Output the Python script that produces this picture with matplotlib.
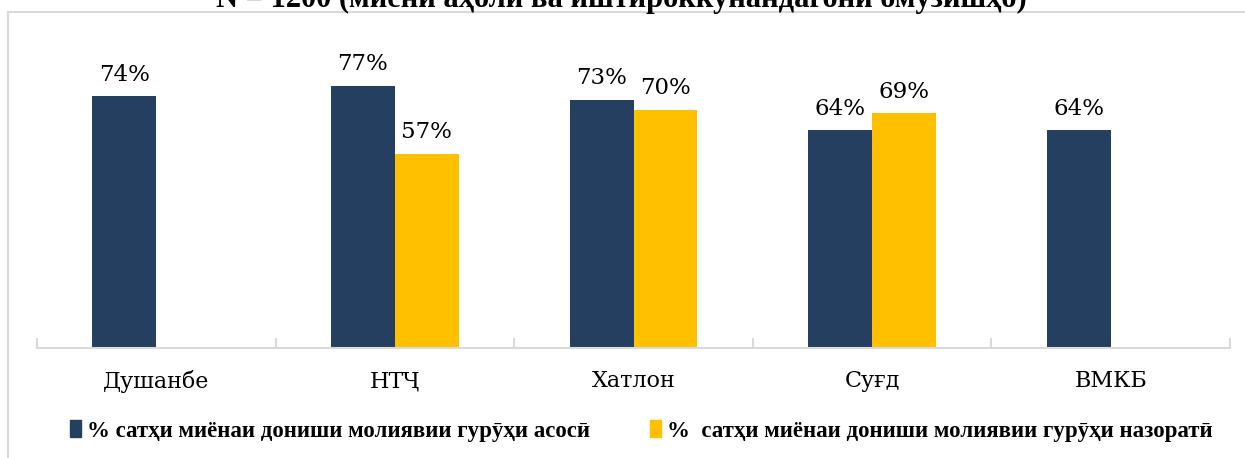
import matplotlib.pyplot as plt
import matplotlib.patches as mpatches
from matplotlib.lines import Line2D
import numpy as np

regions = ['Душанбе', 'НТҶ', 'Хатлон', 'Суғд', 'ВМКБ']
asosi = [74, 77, 73, 64, 64]
nazorati = [None, 57, 70, 69, None]
label_asosi = '% сатҳи миёнаи дониши молиявии гурӯҳи асосӣ'
label_nazorati = '%  сатҳи миёнаи дониши молиявии гурӯҳи назоратӣ'
title = 'N = 1200 (миёни аҳолӣ ва иштироккунандагони омӯзишҳо)'

navy = '#243F60'
gold = '#FFC000'
grid_c = '#D9D9D9'

plt.rcParams['font.family'] = ['DejaVu Serif']

W, H = 1245, 458
fig = plt.figure(figsize=(W / 100, H / 100), dpi=100)
ax = fig.add_axes([37 / W, 1 - 348 / H, (1230 - 37) / W, (348 - 8) / H])

x = np.arange(len(regions))
w = 0.268
for i in range(len(regions)):
    ax.bar(x[i] - w / 2, asosi[i], w, color=navy)
    ax.text(x[i] - w / 2, asosi[i] + 3.2, f'{asosi[i]}%', ha='center', va='bottom',
            fontsize=16.5)
    if nazorati[i] is not None:
        ax.bar(x[i] + w / 2, nazorati[i], w, color=gold)
        ax.text(x[i] + w / 2, nazorati[i] + 3.2, f'{nazorati[i]}%', ha='center',
                va='bottom', fontsize=16.5)

ax.set_xlim(-0.5, len(regions) - 0.5)
ax.set_ylim(0, 100)
for s in ['top', 'right', 'left']:
    ax.spines[s].set_visible(False)
ax.spines['bottom'].set_color(grid_c)
ax.spines['bottom'].set_linewidth(1.5)
ax.set_yticks([])
ax.set_xticks(x)
ax.set_xticklabels(regions, fontsize=16)
ax.tick_params(axis='x', length=0, pad=16)
ax.set_xticks(np.arange(-0.5, len(regions)), minor=True)
ax.tick_params(axis='x', which='minor', direction='in', length=7, color=grid_c, width=1.5)

# outer frame
fig.add_artist(Line2D([8 / W, 8 / W], [0, 1 - 12 / H], transform=fig.transFigure,
                      color=grid_c, lw=1.5))
fig.add_artist(Line2D([8 / W, 1], [1 - 12 / H, 1 - 12 / H], transform=fig.transFigure,
                      color=grid_c, lw=1.5))

fig.text(0.499, 1 - 7 / H, title, ha='center', va='baseline', fontsize=22,
         fontweight='bold', family='Liberation Serif')

handles = [mpatches.Patch(color=navy, label=label_asosi),
           mpatches.Patch(color=gold, label=label_nazorati)]
fig.legend(handles=handles, loc='center', bbox_to_anchor=(0.515, 1 - 431 / H), ncol=2,
           frameon=False, prop={'weight': 'bold', 'size': 16.5, 'family': 'Liberation Serif'},
           handlelength=0.5, handleheight=0.7, handletextpad=0.25, columnspacing=2.6)

fig.savefig('out.png', dpi=100)
